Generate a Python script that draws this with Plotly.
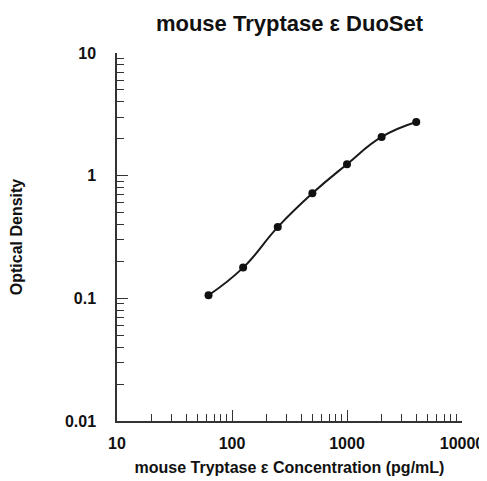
import plotly.graph_objects as go

concentration = [62.5, 125, 250, 500, 1000, 2000, 4000]
optical_density = [0.106, 0.178, 0.381, 0.718, 1.24, 2.07, 2.74]

x_tickvals = [10, 100, 1000, 10000]
x_ticktext = ["10", "100", "1000", "10000"]
y_tickvals = [0.01, 0.1, 1, 10]
y_ticktext = ["0.01", "0.1", "1", "10"]

title_text = "mouse Tryptase \u03b5 DuoSet"
x_title = "mouse Tryptase \u03b5 Concentration (pg/mL)"
y_title = "Optical Density"

FONT = "Liberation Sans, Arial, sans-serif"

# page body has an 8px margin, so the figure is sized/offset to compensate
W, H = 479, 473
L, R, T, B = 109, 25, 45, 60

fig = go.Figure()
fig.add_trace(go.Scatter(
    x=concentration, y=optical_density,
    mode="lines+markers",
    line=dict(color="#1a1a1a", width=2, shape="spline", smoothing=1.3),
    marker=dict(color="#111111", size=8),
    showlegend=False,
    cliponaxis=False,
))

axis_common = dict(
    type="log",
    automargin=False,
    showgrid=False,
    zeroline=False,
    showline=True,
    linecolor="#333333",
    linewidth=1.5,
    ticks="inside",
    ticklen=11,
    tickwidth=1.2,
    tickcolor="#333333",
    tickfont=dict(family=FONT, size=16, color="#111111", weight="bold"),
    minor=dict(ticks="inside", ticklen=7, tickwidth=1.2, tickcolor="#333333", dtick="D1", showgrid=False),
    mirror=False,
)

fig.update_layout(
    width=W, height=H,
    paper_bgcolor="white", plot_bgcolor="white",
    margin=dict(l=L, r=R, t=T, b=B, autoexpand=False),
    title=dict(text=title_text, x=(L + (W - R)) / 2 / W, xanchor="center", y=1 - 15 / H, yanchor="middle",
               font=dict(family=FONT, size=22, color="#111111", weight="bold")),
    xaxis=dict(axis_common, range=[1, 4], tickvals=x_tickvals, ticktext=x_ticktext,
               ticklabelstandoff=7,
               title=dict(text=x_title, font=dict(family=FONT, size=16, color="#111111", weight="bold"), standoff=11)),
    yaxis=dict(axis_common, range=[-2, 1], tickvals=y_tickvals, ticktext=y_ticktext,
               ticklabelstandoff=16,
               title=dict(text=y_title, font=dict(family=FONT, size=16, color="#111111", weight="bold"), standoff=46)),
)

fig.write_html("out.html")
